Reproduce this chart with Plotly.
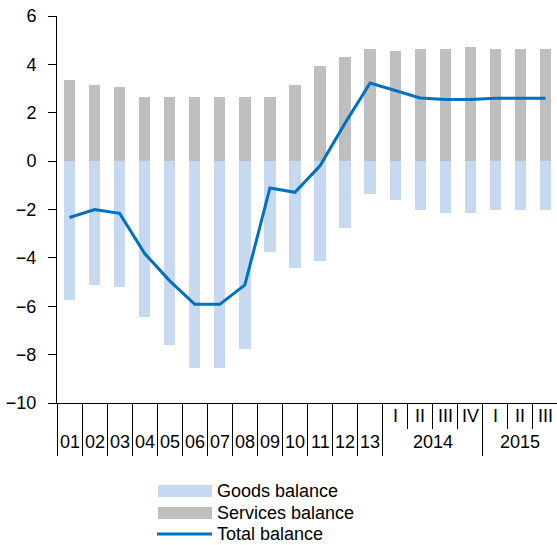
import plotly.graph_objects as go

periods = ["01", "02", "03", "04", "05", "06", "07", "08", "09", "10", "11", "12", "13",
           "I", "II", "III", "IV", "I", "II", "III"]
years = [""] * 13 + ["2014"] * 4 + ["2015"] * 3
goods = [-5.74, -5.12, -5.19, -6.43, -7.61, -8.55, -8.55, -7.76, -3.77, -4.40, -4.12, -2.78, -1.36,
         -1.61, -2.00, -2.16, -2.16, -2.00, -2.00, -2.00]
services = [3.37, 3.14, 3.06, 2.67, 2.67, 2.67, 2.67, 2.67, 2.67, 3.14, 3.92, 4.31, 4.62,
            4.54, 4.62, 4.62, 4.71, 4.62, 4.62, 4.62]
total = [-2.33, -2.00, -2.16, -3.82, -4.95, -5.92, -5.92, -5.12, -1.11, -1.29, -0.19, 1.57, 3.23,
         2.93, 2.61, 2.55, 2.55, 2.60, 2.60, 2.60]
legend_names = ["Goods balance", "Services balance", "Total balance"]

GOODS_C = "#C6D9F1"
SERV_C = "#BFBFBF"
LINE_C = "#0070C0"
FONT = "Liberation Sans, Arial, sans-serif"
FS = 18

W, H = 557, 545
ML, MR, MT, MB = 57, 0, 16, 142
PW, PH = W - ML - MR, H - MT - MB
step = 25.05
x = list(range(len(periods)))

fig = go.Figure()
fig.add_trace(go.Bar(x=x, y=goods, name=legend_names[0], marker_color=GOODS_C,
                     marker_line_width=0, width=0.45))
fig.add_trace(go.Bar(x=x, y=services, name=legend_names[1], marker_color=SERV_C,
                     marker_line_width=0, width=0.45))
fig.add_trace(go.Scatter(x=x, y=total, name=legend_names[2], mode="lines",
                         line=dict(color=LINE_C, width=3)))


def px_x(p):
    return (p - ML) / PW


def px_y(p):
    return (H - MB - p) / PH


annotations = []
# category labels
for i, p in enumerate(periods):
    ypix = 442 if years[i] == "" else 416
    annotations.append(dict(x=i, y=px_y(ypix), xref="x", yref="paper", text=p,
                            showarrow=False, xanchor="center", yanchor="middle",
                            font=dict(size=FS, family=FONT, color="black")))
# year labels
seen = []
for yv in years:
    if yv and yv not in seen:
        seen.append(yv)
for yv in seen:
    idx = [i for i, v in enumerate(years) if v == yv]
    annotations.append(dict(x=sum(idx) / len(idx), y=px_y(442), xref="x", yref="paper",
                            text=yv, showarrow=False, xanchor="center", yanchor="middle",
                            font=dict(size=FS, family=FONT, color="black")))

# long and short divider ticks
long_ticks = [i - 0.5 for i in range(0, 14)] + [16.5]
short_ticks = [13.5, 14.5, 15.5, 17.5, 18.5]

# custom legend
shapes = []
leg_rows = [491, 513, 534]
shapes.append(dict(type="rect", xref="paper", yref="paper", x0=px_x(158), x1=px_x(212),
                   y0=px_y(497), y1=px_y(485), fillcolor=GOODS_C, line_width=0))
shapes.append(dict(type="rect", xref="paper", yref="paper", x0=px_x(158), x1=px_x(212),
                   y0=px_y(519), y1=px_y(507), fillcolor=SERV_C, line_width=0))
shapes.append(dict(type="line", xref="paper", yref="paper", x0=px_x(157), x1=px_x(212),
                   y0=px_y(534), y1=px_y(534), line=dict(color=LINE_C, width=3)))
for name, ry in zip(legend_names, leg_rows):
    annotations.append(dict(x=px_x(215), y=px_y(ry), xref="paper", yref="paper", text=name,
                            showarrow=False, xanchor="left", yanchor="middle",
                            font=dict(size=FS, family=FONT, color="black")))

fig.update_layout(
    width=W, height=H,
    margin=dict(l=ML, r=MR, t=MT, b=MB, autoexpand=False),
    paper_bgcolor="white", plot_bgcolor="white",
    barmode="relative", bargap=0,
    showlegend=False,
    font=dict(family=FONT, size=FS, color="black"),
    xaxis=dict(range=[-0.5, -0.5 + PW / step], showgrid=False, zeroline=False,
               showline=True, linecolor="black", linewidth=1,
               tickmode="array", tickvals=long_ticks, ticktext=[""] * len(long_ticks),
               ticks="outside", ticklen=52, tickcolor="black", tickwidth=1.3,
               showticklabels=False,
               minor=dict(tickmode="array", tickvals=short_ticks, ticks="outside",
                          ticklen=25, tickcolor="black", tickwidth=1.3)),
    yaxis=dict(range=[-10, 6], dtick=2, tick0=0, showgrid=False, zeroline=False,
               showline=True, linecolor="black", linewidth=1,
               ticks="outside", ticklen=8, tickcolor="black",
               ticklabelstandoff=8,
               tickfont=dict(size=FS, family=FONT, color="black")),
    annotations=annotations,
    shapes=shapes,
)

fig.write_html(
    "out.html",
    config={"displayModeBar": False},
    post_script="document.body.style.margin='0';document.body.style.overflow='hidden';",
)
